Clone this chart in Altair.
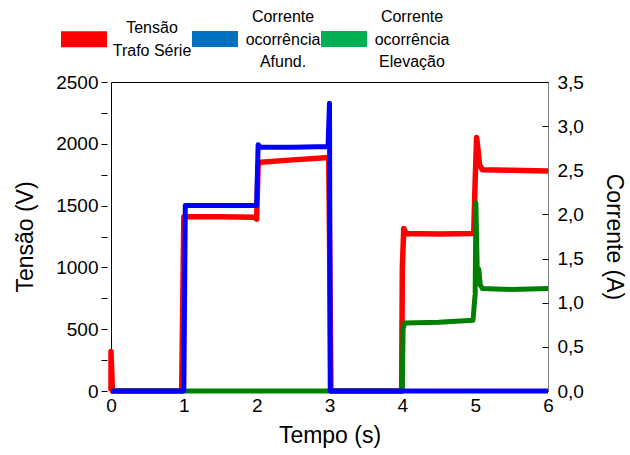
import altair as alt
import pandas as pd

# ---- data ----
t_tensao = [0.0, 0.0, 0.02, 0.97, 0.985, 1.0, 1.03, 1.5, 1.97, 2.0, 2.02, 2.05, 2.5, 2.99, 3.02, 3.99, 4.0, 4.02, 4.05, 4.5, 4.98, 5.0, 5.02, 5.04, 5.06, 5.1, 5.5, 6.0]
v_tensao = [0, 320, 0, 0, 700, 1410, 1410, 1410, 1405, 1390, 1830, 1850, 1870, 1890, 0, 0, 1000, 1315, 1275, 1270, 1275, 1700, 2050, 1950, 1830, 1790, 1785, 1780]

t_afund = [0.0, 1.0, 1.02, 1.5, 2.0, 2.02, 2.05, 2.5, 2.98, 3.0, 3.01, 6.0]
i_afund = [0.0, 0.0, 2.1, 2.1, 2.1, 2.79, 2.76, 2.76, 2.77, 3.26, 0.0, 0.0]

t_elev = [0.0, 4.0, 4.01, 4.03, 4.5, 4.97, 5.0, 5.01, 5.03, 5.05, 5.07, 5.1, 5.5, 6.0]
i_elev = [0.0, 0.0, 0.7, 0.77, 0.78, 0.80, 1.1, 2.13, 1.3, 1.38, 1.2, 1.16, 1.15, 1.16]

series_names = ["Tensão\nTrafo Série", "Corrente\nocorrência\nAfund.", "Corrente\nocorrência\nElevação"]
legend_colors = ["#FF0000", "#0070C0", "#00B050"]
line_colors = ["#FF0000", "#0000FF", "#008000"]
# legend swatches: wide rectangles, moved down to sit beside the middle of their (2- or 3-line) label
legend_shapes = [
    "M-1,0.130H1V0.826H-1Z",
    "M-1,0.609H1V1.304H-1Z",
    "M-1,0.609H1V1.304H-1Z",
]

x_ticks = [0, 1, 2, 3, 4, 5, 6]
v_ticks = [0, 250, 500, 750, 1000, 1250, 1500, 1750, 2000, 2250, 2500]
i_ticks = [0.0, 0.5, 1.0, 1.5, 2.0, 2.5, 3.0, 3.5]

df_v = pd.DataFrame({"t": t_tensao, "y": v_tensao})
df_a = pd.DataFrame({"t": t_afund, "y": i_afund})
df_e = pd.DataFrame({"t": t_elev, "y": i_elev})
df_leg = pd.DataFrame({"serie": series_names, "t": [0, 0, 0], "y": [0, 0, 0]})

FONT = "Liberation Sans"

x_enc = alt.X(
    "t:Q",
    scale=alt.Scale(domain=[0, 6], nice=False, zero=False),
    axis=alt.Axis(
        values=x_ticks, format="d", title="Tempo (s)", ticks=False, domain=False,
        labelFontSize=19, titleFontSize=23, labelPadding=5, titlePadding=9,
        labelColor="black", titleColor="black", titleFontWeight="normal",
        labelFlush=False, grid=False,
    ),
)

i_scale = alt.Scale(domain=[0, 3.5], nice=False)

red = alt.Chart(df_v).mark_line(color=line_colors[0], strokeWidth=5.5, strokeJoin="round").encode(
    x=x_enc,
    y=alt.Y(
        "y:Q",
        scale=alt.Scale(domain=[0, 2500], nice=False),
        axis=alt.Axis(
            orient="left", values=v_ticks, format="d",
            labelExpr="datum.value % 500 == 0 ? datum.label : ''",
            title="Tensão (V)", domain=False, offset=4, tickSize=6, tickColor="black",
            labelFontSize=19, titleFontSize=23, labelPadding=3, titlePadding=18,
            labelColor="black", titleColor="black", titleFontWeight="normal", grid=False,
        ),
    ),
)

green = alt.Chart(df_e).mark_line(color=line_colors[2], strokeWidth=5, strokeJoin="round").encode(
    x=x_enc,
    y=alt.Y(
        "y:Q",
        scale=i_scale,
        axis=alt.Axis(
            orient="right", values=i_ticks, format=".1f",
            labelExpr="replace(datum.label, '.', ',')",
            title="Corrente (A)", domain=True, domainColor="#808080", ticks=False,
            labelFontSize=19, titleFontSize=23, labelPadding=9, titlePadding=18,
            labelColor="black", titleColor="black", titleFontWeight="normal", grid=False,
        ),
    ),
)

blue = alt.Chart(df_a).mark_line(color=line_colors[1], strokeWidth=5, strokeJoin="round").encode(
    x=x_enc,
    y=alt.Y(
        "y:Q",
        scale=i_scale,
        axis=alt.Axis(
            orient="right", values=i_ticks, offset=-6, domain=False, labels=False,
            tickSize=6, tickColor="black", title=None, grid=False,
        ),
    ),
)

leg = alt.Legend(
    title=None, orient="none", direction="horizontal", columns=3,
    legendX=-50, legendY=-88, symbolSize=2116, symbolStrokeWidth=0,
    labelFontSize=16, labelAlign="center", labelBaseline="middle",
    labelOffset=45, columnPadding=-15, labelColor="black", labelLimit=200,
    padding=0,
)

legend_layer = alt.Chart(df_leg).transform_filter("false").mark_point(
    filled=True, opacity=1, size=2116
).encode(
    x=x_enc,
    y=alt.Y("y:Q", scale=alt.Scale(domain=[0, 1]), axis=None),
    color=alt.Color("serie:N", scale=alt.Scale(domain=series_names, range=legend_colors), legend=leg),
    shape=alt.Shape("serie:N", scale=alt.Scale(domain=series_names, range=legend_shapes), legend=leg),
)

chart = (
    alt.layer(red, green, blue, legend_layer)
    .resolve_scale(y="independent")
    .properties(
        width=437, height=309,
        autosize=alt.AutoSizeParams(type="none"),
        padding={"left": 111, "top": 82, "right": 82, "bottom": 64},
    )
    .configure(font=FONT, style={"guide-label": {"lineBreak": "\n", "lineHeight": 22.5}})
    .configure_view(stroke="black", strokeWidth=1)
)

chart.save("out.html", embed_options={"renderer": "svg", "actions": False})
